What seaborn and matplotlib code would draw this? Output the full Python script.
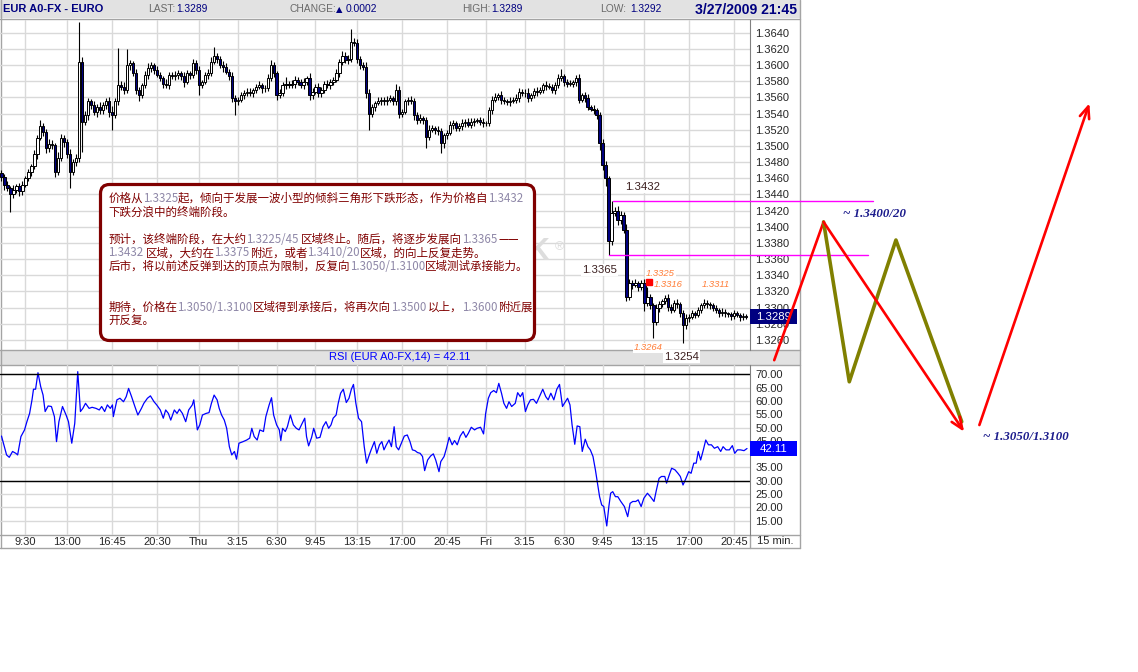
import re
import numpy as np
import pandas as pd
import matplotlib
matplotlib.use("Agg")
import matplotlib.pyplot as plt
import matplotlib.transforms as mtransforms
from matplotlib import font_manager
from matplotlib.patches import FancyBboxPatch, Rectangle
import seaborn as sns

# ---------------- data ----------------
start_time = "2009-03-25 07:30"   # first 15 min bar
first_open = 1.3466

close = [
    1.3462, 1.3452, 1.3448, 1.3440, 1.3446, 1.3450, 1.3444, 1.3452, 1.3460, 1.3468,
    1.3475, 1.3490, 1.3510, 1.3525, 1.3517, 1.3497, 1.3502, 1.3501, 1.3468, 1.3485,
    1.3510, 1.3505, 1.3490, 1.3468, 1.3480, 1.3485, 1.3604, 1.3530, 1.3538, 1.3555,
    1.3551, 1.3542, 1.3548, 1.3544, 1.3551, 1.3555, 1.3542, 1.3538, 1.3555, 1.3575,
    1.3573, 1.3569, 1.3600, 1.3602, 1.3590, 1.3569, 1.3563, 1.3575, 1.3588, 1.3596,
    1.3600, 1.3594, 1.3588, 1.3584, 1.3577, 1.3575, 1.3588, 1.3586, 1.3588, 1.3590,
    1.3586, 1.3579, 1.3590, 1.3588, 1.3602, 1.3594, 1.3575, 1.3579, 1.3588, 1.3590,
    1.3604, 1.3611, 1.3608, 1.3600, 1.3598, 1.3592, 1.3586, 1.3559, 1.3555, 1.3557,
    1.3563, 1.3566, 1.3567, 1.3565, 1.3569, 1.3573, 1.3575, 1.3571, 1.3571, 1.3584,
    1.3600, 1.3590, 1.3563, 1.3565, 1.3575, 1.3577, 1.3575, 1.3577, 1.3582, 1.3579,
    1.3575, 1.3579, 1.3584, 1.3563, 1.3567, 1.3573, 1.3565, 1.3569, 1.3577, 1.3575,
    1.3579, 1.3582, 1.3590, 1.3604, 1.3611, 1.3606, 1.3608, 1.3629, 1.3627, 1.3608,
    1.3600, 1.3598, 1.3565, 1.3540, 1.3548, 1.3553, 1.3555, 1.3557, 1.3555, 1.3557,
    1.3559, 1.3555, 1.3569, 1.3540, 1.3542, 1.3555, 1.3557, 1.3556, 1.3538, 1.3532,
    1.3534, 1.3532, 1.3511, 1.3520, 1.3522, 1.3520, 1.3518, 1.3503, 1.3513, 1.3516,
    1.3526, 1.3528, 1.3522, 1.3524, 1.3528, 1.3530, 1.3526, 1.3530, 1.3531, 1.3532,
    1.3530, 1.3528, 1.3528, 1.3544, 1.3557, 1.3561, 1.3563, 1.3557, 1.3555, 1.3554,
    1.3556, 1.3557, 1.3559, 1.3567, 1.3565, 1.3566, 1.3559, 1.3563, 1.3568, 1.3567,
    1.3569, 1.3575, 1.3574, 1.3573, 1.3569, 1.3575, 1.3584, 1.3586, 1.3579, 1.3577,
    1.3577, 1.3579, 1.3584, 1.3557, 1.3563, 1.3559, 1.3548, 1.3546, 1.3544, 1.3538,
    1.3503, 1.3476, 1.3460, 1.3383, 1.3417, 1.3420, 1.3408, 1.3414, 1.3396, 1.3313,
    1.3330, 1.3328, 1.3330, 1.3326, 1.3330, 1.3306, 1.3313, 1.3303, 1.3282, 1.3300,
    1.3304, 1.3308, 1.3312, 1.3301, 1.3297, 1.3306, 1.3304, 1.3293, 1.3278, 1.3287,
    1.3289, 1.3293, 1.3291, 1.3297, 1.3303, 1.3306, 1.3304, 1.3303, 1.3299, 1.3297,
    1.3293, 1.3295, 1.3293, 1.3292, 1.3290, 1.3293, 1.3291, 1.3288, 1.3290, 1.3289,
]

# wicks beyond the body, in pips
up_wick = [
    4, 3, 5, 2, 6, 3, 4, 5, 3, 4,
    3, 5, 4, 7, 3, 4, 6, 5, 3, 8,
    5, 4, 3, 6, 4, 5, 49, 6, 5, 4,
    3, 5, 4, 6, 3, 4, 5, 7, 4, 46,
    5, 6, 20, 4, 3, 5, 4, 3, 5, 6,
    4, 3, 5, 4, 3, 6, 4, 3, 5, 4,
    3, 5, 4, 3, 6, 4, 5, 3, 4, 5,
    6, 11, 4, 3, 5, 4, 3, 5, 4, 3,
    4, 3, 5, 4, 3, 4, 5, 3, 4, 5,
    6, 4, 3, 5, 4, 8, 3, 4, 5, 3,
    4, 5, 3, 6, 4, 3, 5, 4, 3, 5,
    4, 3, 5, 4, 6, 5, 4, 16, 4, 5,
    3, 4, 6, 5, 4, 3, 5, 4, 3, 5,
    4, 3, 8, 5, 4, 3, 4, 5, 3, 4,
    5, 3, 4, 6, 4, 3, 5, 4, 3, 4,
    5, 4, 3, 4, 5, 3, 4, 5, 4, 3,
    4, 5, 3, 4, 5, 4, 3, 5, 4, 3,
    4, 3, 5, 4, 3, 4, 5, 3, 4, 5,
    4, 3, 5, 4, 3, 4, 5, 9, 3, 4,
    5, 3, 4, 5, 3, 4, 5, 3, 4, 3,
    4, 6, 5, 3, 15, 4, 6, 5, 4, 7,
    5, 4, 6, 3, 4, 5, 12, 4, 3, 5,
    4, 3, 4, 5, 3, 4, 5, 3, 4, 5,
    3, 4, 3, 4, 3, 5, 4, 3, 3, 4,
    3, 4, 3, 2, 3, 4, 3, 2, 3, 2,
]
dn_wick = [
    5, 6, 4, 22, 5, 4, 6, 5, 3, 4,
    5, 4, 6, 3, 5, 6, 4, 5, 6, 4,
    4, 6, 5, 20, 4, 5, 5, 38, 4, 6,
    5, 4, 6, 5, 4, 5, 6, 18, 4, 5,
    4, 5, 3, 6, 4, 5, 8, 4, 3, 5,
    4, 5, 3, 4, 6, 4, 5, 3, 4, 5,
    4, 6, 3, 5, 4, 5, 12, 4, 3, 5,
    4, 3, 5, 4, 6, 3, 4, 5, 17, 4,
    3, 5, 4, 3, 5, 4, 3, 5, 4, 3,
    4, 5, 6, 4, 3, 5, 4, 3, 5, 4,
    3, 5, 4, 6, 5, 3, 4, 5, 3, 4,
    5, 4, 3, 5, 4, 3, 5, 4, 3, 6,
    5, 4, 6, 20, 4, 5, 3, 4, 5, 4,
    3, 5, 4, 6, 4, 3, 5, 4, 6, 5,
    4, 5, 13, 4, 3, 5, 4, 12, 5, 4,
    3, 5, 4, 3, 4, 5, 3, 4, 5, 3,
    4, 5, 3, 4, 5, 3, 4, 5, 3, 4,
    5, 3, 4, 5, 3, 4, 5, 3, 4, 5,
    3, 4, 5, 3, 4, 5, 3, 4, 5, 4,
    3, 4, 5, 4, 3, 5, 4, 3, 4, 5,
    8, 6, 10, 18, 5, 4, 6, 5, 4, 5,
    4, 5, 3, 6, 4, 10, 4, 5, 20, 4,
    5, 3, 4, 5, 4, 3, 5, 4, 22, 4,
    5, 3, 4, 3, 4, 3, 4, 5, 3, 4,
    5, 3, 4, 3, 5, 4, 3, 4, 3, 3,
]

rsi_bar = [
    0, 1.7, 2.6, 3.7, 4.8, 5.4, 6.5, 7.7, 8.5, 9.4,
    10.2, 10.7, 11.4, 12.2, 13.1, 13.9, 14.6, 15.6, 16.7, 17.7,
    18.4, 19.2, 20.4, 21.6, 22.4, 23.5, 24.5, 25.5, 26.4, 27.2,
    28.1, 29.3, 30.3, 31.6, 32.7, 33.5, 34.5, 35.4, 36.4, 37.1,
    37.4, 38.6, 39.6, 40.8, 41.7, 42.5, 43.5, 44.6, 45.6, 46.8,
    47.6, 48.8, 49.8, 51.0, 51.9, 53.1, 54.1, 54.9, 55.8, 56.6,
    57.8, 58.7, 59.5, 60.5, 61.6, 62.6, 63.8, 64.3, 65.5, 66.3,
    67.2, 68.4, 69.4, 70.2, 71.1, 72.1, 72.8, 73.6, 74.5, 75.3,
    76.2, 77.0, 77.9, 78.6, 79.4, 80.8, 82.0, 83.0, 83.7, 84.5,
    85.5, 86.4, 87.6, 88.4, 89.5, 90.3, 91.0, 92.0, 92.9, 93.4,
    94.0, 94.9, 95.6, 96.6, 97.6, 98.6, 99.5, 100.3, 101.4, 102.0,
    102.7, 103.7, 104.4, 105.4, 106.5, 107.5, 108.5, 109.4, 110.2, 110.9,
    111.9, 112.6, 113.4, 114.3, 115.3, 116.2, 117.0, 117.7, 118.5, 119.4,
    120.4, 121.3, 122.1, 122.8, 123.6, 124.7, 125.5, 126.4, 127.2, 127.9,
    128.7, 129.6, 130.4, 131.3, 132.0, 132.8, 133.7, 134.7, 135.7, 136.6,
    137.4, 138.3, 139.1, 140.0, 140.8, 141.5, 142.5, 143.5, 144.4, 145.2,
    146.3, 146.9, 148.0, 148.8, 149.7, 150.7, 151.5, 152.4, 153.4, 154.4,
    155.3, 156.1, 157.1, 158.2, 159.0, 160.2, 161.2, 161.9, 162.8, 163.6,
    164.6, 165.5, 166.3, 167.2, 168.0, 168.9, 169.7, 170.6, 171.8, 172.6,
    173.5, 174.3, 175.2, 176.0, 176.9, 177.9, 178.9, 179.9, 181.0, 182.0,
    182.8, 183.7, 184.7, 185.7, 186.6, 187.6, 188.4, 189.3, 190.1, 190.8,
    191.7, 192.5, 193.4, 194.2, 195.2, 196.1, 196.9, 197.8, 198.6, 199.3,
    200.0, 200.7, 201.4, 202.4, 203.1, 203.7, 204.4, 205.3, 206.1, 207.1,
    208.3, 209.4, 210.2, 211.1, 212.1, 212.9, 213.9, 214.8, 216.0, 217.0,
    218.2, 219.0, 219.9, 220.7, 221.8, 222.4, 223.3, 224.1, 225.2, 226.2,
    227.0, 227.9, 228.9, 229.8, 230.6, 231.5, 232.3, 233.0, 233.8, 234.7,
    235.5, 236.4, 237.4, 238.4, 239.5, 240.5, 241.3, 242.3, 243.4, 244.4,
    245.2, 246.1, 247.1, 248.3, 249.3,
]
rsi_val = [
    46.8, 39.7, 38.8, 41.0, 40.3, 39.7, 46.6, 49.1, 52.2, 55.3,
    60.4, 64.4, 64.4, 70.6, 65.4, 62.2, 56.0, 58.1, 57.9, 54.1,
    44.7, 52.2, 57.9, 54.7, 52.2, 44.1, 51.6, 71.0, 56.0, 57.2,
    59.1, 57.2, 57.6, 57.2, 56.6, 57.9, 56.0, 58.5, 57.2, 58.5,
    54.1, 60.4, 61.0, 59.7, 61.6, 64.7, 61.6, 57.9, 54.7, 57.2,
    59.1, 61.0, 61.9, 59.7, 58.5, 56.6, 53.5, 56.6, 55.3, 52.8,
    56.6, 55.3, 56.9, 55.3, 52.2, 56.6, 58.5, 60.4, 49.1, 51.0,
    54.7, 55.3, 55.6, 59.1, 62.2, 60.4, 57.2, 54.7, 52.8, 49.7,
    42.8, 39.7, 41.0, 38.1, 44.1, 44.7, 45.3, 46.0, 49.7, 46.6,
    45.3, 49.1, 48.5, 54.1, 58.5, 61.2, 54.7, 51.0, 49.1, 45.1,
    49.7, 48.5, 50.3, 54.7, 51.0, 49.7, 49.1, 51.0, 53.5, 46.6,
    43.1, 46.3, 49.7, 46.0, 46.3, 50.3, 52.2, 49.7, 51.0, 53.5,
    54.7, 59.1, 62.9, 64.4, 59.4, 61.0, 64.4, 66.2, 59.1, 53.5,
    52.2, 42.8, 36.6, 39.1, 41.6, 44.7, 40.3, 43.5, 44.7, 41.6,
    43.5, 45.3, 42.8, 50.3, 42.8, 41.6, 44.1, 46.8, 47.2, 44.7,
    41.6, 41.3, 40.6, 40.3, 39.1, 33.8, 37.8, 39.3, 40.1, 37.8,
    33.4, 37.2, 39.1, 42.2, 46.3, 43.5, 45.1, 43.5, 46.8, 48.5,
    46.3, 47.8, 50.1, 49.1, 49.7, 50.1, 47.6, 55.3, 61.0, 63.1,
    63.9, 63.1, 66.6, 62.9, 59.1, 57.2, 59.7, 57.9, 59.1, 63.1,
    61.6, 63.1, 56.0, 58.5, 60.4, 60.6, 59.1, 61.6, 64.4, 61.6,
    60.4, 62.9, 60.4, 64.4, 66.2, 57.9, 59.4, 61.0, 58.5, 51.0,
    43.7, 50.6, 50.3, 41.0, 45.6, 42.8, 41.6, 39.1, 34.1, 29.1,
    24.0, 20.9, 20.3, 13.0, 20.3, 25.3, 25.9, 24.0, 24.0, 22.2,
    20.3, 16.5, 21.5, 22.2, 22.2, 22.8, 20.3, 23.4, 25.3, 24.0,
    22.2, 26.5, 30.9, 31.6, 31.6, 29.1, 32.2, 34.7, 34.1, 32.8,
    31.6, 28.4, 30.9, 33.4, 32.8, 36.6, 36.6, 41.0, 37.8, 41.6,
    45.3, 43.5, 43.5, 42.2, 42.8, 41.0, 42.8, 41.6, 41.6, 43.2,
    40.3, 41.6, 41.6, 41.3, 42.11,
]

tick_times = [
    "2009-03-25 09:30", "2009-03-25 13:00", "2009-03-25 16:45", "2009-03-25 20:30",
    "2009-03-26 00:00", "2009-03-26 03:15", "2009-03-26 06:30", "2009-03-26 09:45",
    "2009-03-26 13:15", "2009-03-26 17:00", "2009-03-26 20:45", "2009-03-27 00:00",
    "2009-03-27 03:15", "2009-03-27 06:30", "2009-03-27 09:45", "2009-03-27 13:15",
    "2009-03-27 17:00", "2009-03-27 20:45",
]
tick_labels = ["9:30", "13:00", "16:45", "20:30", "Thu", "3:15", "6:30", "9:45", "13:15",
               "17:00", "20:45", "Fri", "3:15", "6:30", "9:45", "13:15", "17:00", "20:45"]

header_last, header_change, header_high, header_low = "1.3289", "0.0002", "1.3289", "1.3292"
header_stamp = "3/27/2009 21:45"

# support / resistance levels (bar index where the line starts / ends)
levels = [1.3432, 1.3365]
level_from = [204.6, 203.0]
level_to = [291.5, 289.7]

# labelled turning points
mark_bar = [204, 203, 228]
mark_price = [1.3432, 1.3365, 1.3254]
pivot_bar = [216, 222, 235, 218]
pivot_price = [1.3325, 1.3316, 1.3311, 1.3264]
signal_bar = [216.5]
signal_price = [1.3332]

# hand-drawn forecast waves (bar index, price)
red_bar = [258.4, 274.9, 321.9]
red_price = [1.3235, 1.3406, 1.31465]
olive_bar = [274.9, 283.5, 299.1, 321.1]
olive_price = [1.3406, 1.32083, 1.33836, 1.31589]
rebound_bar = [327.0, 363.8]
rebound_price = [1.31548, 1.35527]
wave_text = ["~ 1.3400/20", "~ 1.3050/1.3100"]
wave_text_bar = [281.3, 328.3]
wave_text_price = [1.3416, 1.3140]

note_lines = [
    "价格从[1.3325]起，倾向于发展一波小型的倾斜三角形下跌形态，作为价格自[1.3432]",
    "下跌分浪中的终端阶段。",
    "",
    "预计，该终端阶段，在大约[1.3225/45] 区域终止。随后，将逐步发展向[1.3365] ——",
    "[1.3432] 区域，大约在[1.3375]附近，或者[1.3410/20]区域，的向上反复走势。",
    "后市，将以前述反弹到达的顶点为限制，反复向[1.3050/1.3100]区域测试承接能力。",
    "",
    "",
    "期待，价格在[1.3050/1.3100]区域得到承接后，将再次向[1.3500] 以上，[1.3600]附近展",
    "开反复。",
]

# ---------------- styling ----------------
sns.set_style("white")
plt.rcParams["font.family"] = ["Liberation Sans", "DejaVu Sans"]
CJK = ["Noto Sans CJK SC", "DejaVu Sans"]
installed = {f.name for f in font_manager.fontManager.ttflist}
NARROW = "Liberation Sans Narrow" if "Liberation Sans Narrow" in installed else "Liberation Sans"
narrow_scale = 1.0 if NARROW == "Liberation Sans Narrow" else 0.88

NAVY = "#000080"
GRID = "#d9d9d9"
EDGE = "#a4a4a4"
TICK_FS = 8

W, H = 1138, 672
fig = plt.figure(figsize=(W / 100, H / 100), dpi=100)


def px(x0, y0, x1, y1):
    return [x0 / W, 1 - y1 / H, (x1 - x0) / W, (y1 - y0) / H]


times = pd.date_range(start_time, periods=len(close), freq="15min")
tick_pos = times.get_indexer(pd.to_datetime(tick_times))
bars = np.arange(len(close))
c = np.array(close)
o = np.r_[first_open, c[:-1]]
hi = np.maximum(o, c) + np.array(up_wick) * 1e-4
lo = np.minimum(o, c) - np.array(dn_wick) * 1e-4
XLIM = (-0.5, 250.3)

# ---------------- background layer (frames, header, strips) ----------------
bg = fig.add_axes([0, 0, 1, 1])
bg.set_xlim(0, W)
bg.set_ylim(H, 0)
bg.axis("off")
bg.add_patch(Rectangle((0, 0), 800, 18, fc="#e2e2e2", ec="none"))
bg.add_patch(Rectangle((0, 350), 800, 15, fc="#e2e2e2", ec="none"))
for y in [18.5, 350, 365, 535, 548]:
    bg.plot([0, 800], [y, y], color=EDGE, lw=1)
bg.plot([0.5, 0.5], [0, 548], color=EDGE, lw=1)
bg.plot([800, 800], [0, 548], color=EDGE, lw=1)
bg.plot([750, 750], [535, 548], color=EDGE, lw=1)

hdr = dict(family=NARROW, va="center")
bg.text(3, 9.5, "EUR A0-FX - EURO", fontsize=9.1 * narrow_scale, fontweight="bold",
        color=NAVY, **hdr)
for x, gap, lab, val in [(148, 28, "LAST:", header_last), (462, 29, "HIGH:", header_high),
                         (600, 30, "LOW:", header_low)]:
    bg.text(x, 9.5, lab, fontsize=8.4 * narrow_scale, color="#6a6a6a", **hdr)
    bg.text(x + gap, 9.5, val, fontsize=8.4 * narrow_scale, color=NAVY, **hdr)
bg.text(290, 9.5, "CHANGE:", fontsize=8.4 * narrow_scale, color="#6a6a6a", **hdr)
bg.text(336, 9.5, "▲", family=["DejaVu Sans"], fontsize=6, color=NAVY, va="center")
bg.text(346, 9.5, header_change, fontsize=8.4 * narrow_scale, color=NAVY, **hdr)
bg.text(797, 9.5, header_stamp, fontsize=11.5 * narrow_scale, fontweight="bold",
        color=NAVY, ha="right", **hdr)
bg.text(400, 357.5, f"RSI (EUR A0-FX,14) = {rsi_val[-1]:.2f}", color="#0000ff",
        fontsize=TICK_FS, ha="center", va="center")
bg.text(775, 541.5, "15 min.", fontsize=TICK_FS, ha="center", va="center")

# ---------------- price panel ----------------
axp = fig.add_axes(px(0, 20, 750, 350))
axp.set_facecolor("none")
axp.set_xlim(*XLIM)
axp.set_ylim(1.32476, 1.36557)
price_ticks = np.round(np.arange(1.3260, 1.36401, 0.002), 4)
axp.set_yticks(price_ticks)
axp.set_yticklabels([f"{v:.4f}" for v in price_ticks])
axp.yaxis.tick_right()
axp.set_xticks(tick_pos)
axp.set_xticklabels([])
axp.tick_params(axis="both", length=0)
axp.tick_params(axis="y", pad=4, labelsize=TICK_FS)
axp.grid(True, color=GRID, lw=1)
axp.set_axisbelow(True)
for s in axp.spines.values():
    s.set_visible(False)
axp.spines["right"].set_visible(True)
axp.spines["right"].set_color("#808080")

axp.text(176, 1.33685, "K", fontsize=22, color="#dddddd", fontweight="bold", va="center")
axp.text(185, 1.3375, "®", fontsize=9, color="#dddddd", va="center")

axp.vlines(bars, lo, hi, color="black", lw=0.8, zorder=2)
rise = c >= o
body = np.maximum(np.abs(c - o), 0.00005)
base = np.minimum(o, c)
axp.bar(bars[rise], body[rise], bottom=base[rise], width=0.75, color="white",
        edgecolor="black", linewidth=0.7, zorder=3)
axp.bar(bars[~rise], body[~rise], bottom=base[~rise], width=0.75, color=NAVY,
        edgecolor="black", linewidth=0.7, zorder=3)

for lv, a, b in zip(levels, level_from, level_to):
    axp.plot([a, b], [lv, lv], color="#ff00ff", lw=1, clip_on=False, zorder=4)

mark_offsets = [(31, 14), (-9, -15), (-2, -12)]
for b, p, off in zip(mark_bar, mark_price, mark_offsets):
    axp.annotate(f"{p:.4f}", xy=(b, p), xytext=off, textcoords="offset pixels",
                 ha="center", va="center", fontsize=8.2, color="#3c2020",
                 bbox=dict(fc="white", ec="none", pad=1), annotation_clip=False, zorder=5)
pivot_offsets = [(13, 14), (3, 10), (12, 14), (-5, -11)]
for b, p, off in zip(pivot_bar, pivot_price, pivot_offsets):
    axp.annotate(f"{p:.4f}", xy=(b, p), xytext=off, textcoords="offset pixels",
                 ha="center", va="center", fontsize=6.8, style="italic", color="#ff7f3a",
                 bbox=dict(fc="white", ec="none", pad=0.5), annotation_clip=False, zorder=5)
axp.plot(signal_bar, signal_price, "s", color="red", ms=4.2, zorder=6)

# value tags on the right axis (47 x 15 px boxes)
ptag = mtransforms.blended_transform_factory(axp.transAxes, axp.transData)
p_half = 7.5 * (1.36557 - 1.32476) / 330
axp.add_patch(Rectangle((1.0, c[-1] - p_half), 47 / 750, 2 * p_half, transform=ptag,
                        fc=NAVY, ec="none", clip_on=False, zorder=6))
axp.text(1.0 + 23.5 / 750, c[-1], f"{c[-1]:.4f}", transform=ptag, color="white",
         fontsize=8.2, va="center", ha="center", clip_on=False, zorder=7)

# ---------------- RSI panel ----------------
axr = fig.add_axes(px(0, 365, 750, 535))
axr.set_facecolor("none")
sns.lineplot(x=rsi_bar, y=rsi_val, ax=axr, color="#0000ff", lw=0.9)
axr.set_xlim(*XLIM)
axr.set_ylim(9.6, 73.5)
rsi_ticks = np.arange(15, 71, 5)
axr.set_yticks(rsi_ticks)
# the 40.00 label sits fully under the live value tag, as in the source chart
axr.set_yticklabels(["" if v == 40 else f"{v:.2f}" for v in rsi_ticks])
axr.yaxis.tick_right()
axr.set_xticks(tick_pos)
axr.set_xticklabels(tick_labels)
axr.tick_params(axis="both", length=0, labelsize=TICK_FS)
axr.tick_params(axis="y", pad=4)
axr.tick_params(axis="x", pad=1.5)
axr.grid(True, color=GRID, lw=1)
axr.set_axisbelow(True)
axr.axhline(70, color="black", lw=1)
axr.axhline(30, color="black", lw=1)
axr.set_xlabel("")
axr.set_ylabel("")
for s in axr.spines.values():
    s.set_visible(False)
axr.spines["right"].set_visible(True)
axr.spines["right"].set_color("#808080")
rtag = mtransforms.blended_transform_factory(axr.transAxes, axr.transData)
r_half = 7.5 * (73.5 - 9.6) / 170
axr.add_patch(Rectangle((1.0, rsi_val[-1] - r_half), 47 / 750, 2 * r_half, transform=rtag,
                        fc="#0000ff", ec="none", clip_on=False, zorder=6))
axr.text(1.0 + 23.5 / 750, rsi_val[-1], f"{rsi_val[-1]:.2f}", transform=rtag, color="white",
         fontsize=8.2, va="center", ha="center", clip_on=False, zorder=7)

# ---------------- top layer: note box and forecast waves ----------------
top = fig.add_axes([0, 0, 1, 1])
top.set_facecolor("none")
top.axis("off")
top.add_patch(FancyBboxPatch((100.5, 184.5), 434, 156,
                             boxstyle="round,pad=0,rounding_size=9",
                             fc="white", ec="#800000", lw=2.3))
renderer = fig.canvas.get_renderer()
for k, line in enumerate(note_lines):
    if not line:
        continue
    x = 108.3
    y = 198 + 13.7 * k
    for j, part in enumerate(re.split(r"[\[\]]", line)):
        lead = len(part) - len(part.lstrip(" "))
        trail = len(part) - len(part.rstrip(" "))
        x += 2.0 * lead
        s = part.strip(" ")
        if s:
            t = top.text(x, y, s, family=CJK, fontsize=8.3, va="center", ha="left",
                         color="#800000" if j % 2 == 0 else "#8f88a8")
            x += t.get_window_extent(renderer).width
        x += 2.0 * trail

tr = axp.transData
top.plot(red_bar[:2], red_price[:2], color="red", lw=1.9, transform=tr, clip_on=False)
head = dict(arrowstyle="->,head_length=0.6,head_width=0.25", color="red", lw=1.9,
            shrinkA=0, shrinkB=0, mutation_scale=14)
top.annotate("", xy=(red_bar[2], red_price[2]), xytext=(red_bar[1], red_price[1]),
             xycoords=tr, textcoords=tr, arrowprops=head, annotation_clip=False)
top.plot(olive_bar, olive_price, color="#808000", lw=2.6, transform=tr, clip_on=False)
top.annotate("", xy=(rebound_bar[1], rebound_price[1]), xytext=(rebound_bar[0], rebound_price[0]),
             xycoords=tr, textcoords=tr, arrowprops=head, annotation_clip=False)
for txt, b, p in zip(wave_text, wave_text_bar, wave_text_price):
    top.text(b, p, txt, transform=tr, family="Liberation Serif", style="italic",
             fontweight="bold", fontsize=9.3, color="#1c1c8c", va="center", ha="left")
top.set_xlim(0, W)
top.set_ylim(H, 0)

fig.savefig("out.png", dpi=100)
